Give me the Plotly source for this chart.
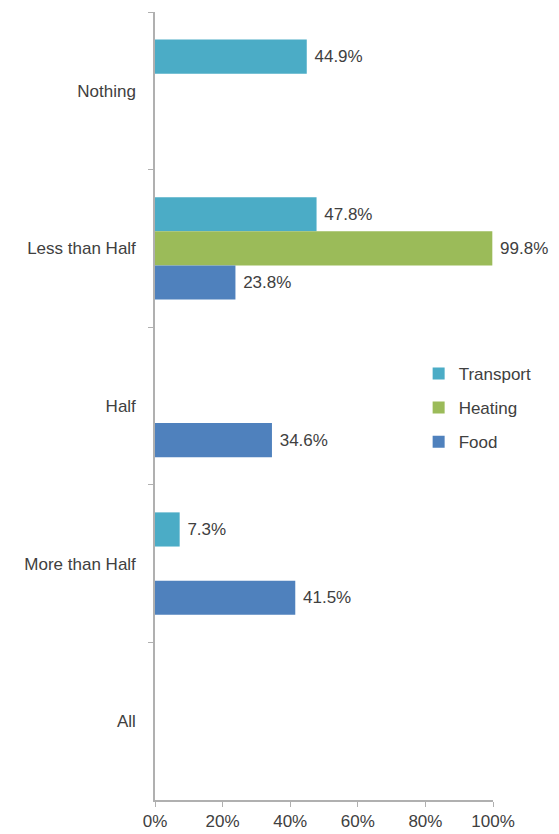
import plotly.graph_objects as go

categories = ["Nothing", "Less than Half", "Half", "More than Half", "All"]
series_names = ["Transport", "Heating", "Food"]
transport = [0.449, 0.478, None, 0.073, None]
heating = [None, 0.998, None, None, None]
food = [None, 0.238, 0.346, 0.415, None]
x_ticks = [0, 0.2, 0.4, 0.6, 0.8, 1.0]
x_tick_labels = ["0%", "20%", "40%", "60%", "80%", "100%"]

colors = ["#4BACC6", "#9BBB59", "#4F81BD"]
FONT = "Liberation Sans"
TXT = "#404040"
FS = 17

fig = go.Figure()
for i, (name, vals) in enumerate(zip(series_names, [transport, heating, food])):
    fig.add_trace(go.Bar(
        y=categories, x=vals, name=name, orientation="h",
        marker=dict(color=colors[i], line=dict(width=0)),
        texttemplate="\u00a0%{x:.1%}", textposition="outside",
        textfont=dict(family=FONT, size=FS, color=TXT),
        cliponaxis=False, legendgroup=name,
    ))

fig.update_layout(
    width=559, height=834,
    margin=dict(l=155, r=66, t=12, b=34, autoexpand=False),
    paper_bgcolor="white", plot_bgcolor="white",
    barmode="group", bargap=0.35, bargroupgap=0,
    font=dict(family=FONT, size=FS, color=TXT),
    legend=dict(x=0.78, y=0.5635, xanchor="left", yanchor="top",
                traceorder="grouped", tracegroupgap=9, itemwidth=30,
                font=dict(family=FONT, size=FS, color=TXT),
                bgcolor="rgba(0,0,0,0)"),
)
fig.update_xaxes(range=[0, 1], tickvals=x_ticks, ticktext=x_tick_labels,
                 showgrid=False, zeroline=False, showline=True, automargin=False,
                 linecolor="#b0b0b0", linewidth=1.5, ticks="outside",
                 ticklen=5, tickcolor="#b0b0b0",
                 tickfont=dict(family=FONT, size=FS, color=TXT))
fig.update_yaxes(autorange="reversed", showgrid=False, showline=True, automargin=False,
                 linecolor="#b0b0b0", linewidth=1.5, ticks="outside",
                 tickson="boundaries", ticklen=5, tickcolor="#b0b0b0",
                 ticklabelstandoff=14,
                 tickfont=dict(family=FONT, size=FS, color=TXT))

fig.write_html("out.html", config={"displayModeBar": False},
               post_script="document.body.style.margin='0';document.body.style.overflow='hidden';")
